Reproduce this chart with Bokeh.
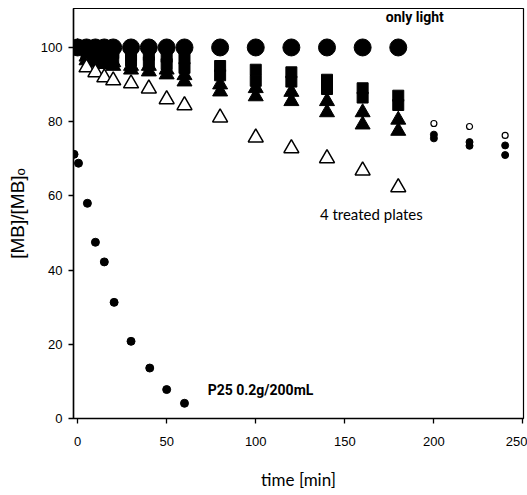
from bokeh.plotting import figure
from bokeh.models import Range1d, FixedTicker
from bokeh.core.properties import value
from bokeh.embed import file_html
from bokeh.resources import INLINE

# ---- data ----
t_main = [0, 5, 10, 15, 20, 30, 40, 50, 60, 80, 100, 120, 140, 160, 180]
only_light = [100, 100, 100, 100, 100, 100, 100, 100, 100, 100, 100, 100, 100, 100, 100]
plate1 = [100, 99.5, 99, 99, 98.5, 98, 98, 97.5, 97, 95, 94, 93.3, 91.3, 89, 87]
plate2 = [100, 98.5, 98, 97.5, 97, 96.5, 96, 95.5, 94.5, 92.5, 91, 90.8, 88.8, 86.5, 84.5]
plate3 = [100, 97.5, 97, 96.5, 96, 95, 95, 94, 92.5, 90, 89, 88, 85.5, 82.5, 80.5]
plate4 = [100, 96.5, 96, 95.5, 95, 94, 93.5, 92.7, 90.8, 88.1, 86.8, 85.5, 82.5, 79.2, 77.5]

t_open_tri = [5, 10, 15, 20, 30, 40, 50, 60, 80, 100, 120, 140, 160, 180]
open_tri = [94.6, 93.3, 91.9, 91.1, 90.3, 88.9, 86.0, 84.4, 81.1, 75.7, 72.8, 70.1, 66.8, 62.3]

t_late = [200, 220, 240]
late_open = [79.5, 78.7, 76.3]
late_fill_a = [76.5, 74.5, 73.6]
late_fill_b = [75.5, 73.5, 71.0]

t_p25 = [-2, 0.5, 5.5, 10, 15, 20.5, 30, 40.5, 50, 60]
p25 = [71.2, 68.8, 58.0, 47.5, 42.2, 31.3, 20.8, 13.6, 7.8, 4.1]

x_ticks = [0, 50, 100, 150, 200, 250]
y_ticks = [0, 20, 40, 60, 80, 100]

p = figure(width=527, height=495, output_backend="svg", toolbar_location=None,
           x_range=Range1d(-2.3, 250.3), y_range=Range1d(0, 110.5),
           min_border_left=73, min_border_right=4, min_border_top=8, min_border_bottom=77)
p.background_fill_color = "white"
p.border_fill_color = "white"
p.outline_line_color = "black"
p.outline_line_width = 1.2
p.grid.visible = False

for ax in (p.xaxis[0], p.yaxis[0]):
    ax.axis_line_width = 1.5
    ax.axis_line_color = "black"
    ax.major_tick_in = 0
    ax.major_tick_out = 5
    ax.major_tick_line_width = 1.3
    ax.minor_tick_line_color = None
    ax.major_label_text_font = "Liberation Sans"
    ax.major_label_text_font_size = "13px"
    ax.major_label_text_color = "black"
    ax.axis_label_text_font = "Lato"
    ax.axis_label_text_font_style = "normal"
    ax.axis_label_text_color = "black"

p.xaxis.ticker = FixedTicker(ticks=x_ticks)
p.yaxis.ticker = FixedTicker(ticks=y_ticks)
p.xaxis.major_label_standoff = 13
p.yaxis.major_label_standoff = 6
p.xaxis.axis_label = "time [min]"
p.xaxis.axis_label_text_font_size = "17px"
p.xaxis.axis_label_standoff = 20
p.yaxis.axis_label = "[MB]/[MB]\u2092"
p.yaxis.axis_label_text_font = "Liberation Sans"
p.yaxis.axis_label_text_font_size = "19px"
p.yaxis.axis_label_standoff = 10

# treated plates (filled)
p.scatter(t_main, plate4, marker="triangle", size=15, color="black")
p.scatter(t_main, plate3, marker="triangle", size=15, color="black")
p.scatter(t_main, plate2, marker="square", size=11, color="black")
p.scatter(t_main, plate1, marker="square", size=11, color="black")
# only light
p.scatter(t_main, only_light, marker="circle", size=17, color="black")
# open triangles
p.scatter(t_open_tri, open_tri, marker="triangle", size=15, fill_color="white",
          line_color="black", line_width=1.5)
# late points
p.scatter(t_late, late_fill_a, marker="circle", size=7, color="black")
p.scatter(t_late, late_fill_b, marker="circle", size=7, color="black")
p.scatter(t_late, late_open, marker="circle", size=6, fill_color="white",
          line_color="black", line_width=1.2)
# P25
p.scatter(t_p25, p25, marker="circle", size=8, color="black")

p.text(x=[173], y=[108.3], text=["only light"], text_font=value("Roboto"),
       text_font_style="bold", text_font_size="14px", text_baseline="middle",
       text_color="black")
p.text(x=[136], y=[55], text=["4 treated plates"], text_font=value("Lato"),
       text_font_size="15px", text_baseline="middle", text_color="black")
p.text(x=[73], y=[7.8], text=["P25 0.2g/200mL"], text_font=value("Roboto"),
       text_font_style="bold", text_font_size="14px", text_baseline="middle",
       text_color="black")

open("out.html", "w").write(file_html(p, INLINE))
